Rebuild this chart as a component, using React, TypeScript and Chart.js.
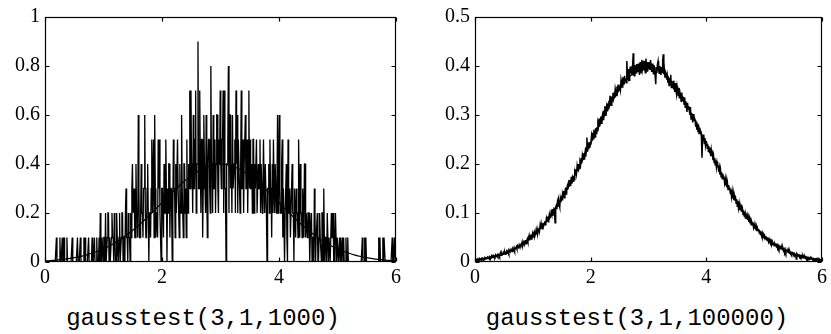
import React, { useEffect, useRef } from "react";
import { Chart, registerables } from "chart.js";

Chart.register(...registerables);

// ---------- data ----------
const binWidth = 0.01;
const leftDensityPerCount = 0.1; // 1 / (1000 samples * 0.01 bin)
const rightDensityPerUnit = 0.001;

// gausstest(3,1,1000): counts per 0.01 bin
const leftCounts0to2 = [
  0,0,0,0,0,0,0,0,0,0, 0,0,0,0,0,0,0,0,0,1, 0,0,0,0,0,1,0,0,0,1, 0,0,1,0,0,0,0,1,0,0, 0,0,0,0,0,0,1,0,0,0,
  0,0,0,0,0,1,0,0,0,0, 1,0,0,0,0,0,1,0,1,0, 0,0,0,0,1,0,0,0,0,0, 1,0,0,0,1,0,0,0,1,0, 0,0,1,0,2,0,0,1,1,0,
  1,1,0,2,0,0,1,2,2,0, 1,0,0,1,2,1,1,0,2,1, 0,0,2,1,1,0,1,2,0,0, 1,2,2,0,1,1,0,2,3,1, 1,0,2,1,1,0,2,1,3,4,
  2,2,3,1,1,4,2,2,1,6, 3,1,1,2,4,2,2,1,3,3, 6,2,1,1,3,4,2,0,2,2, 1,3,5,2,2,5,1,6,3,1, 2,2,1,5,3,5,2,1,0,3,
];
const leftCounts2to4 = [
  3,3,1,4,2,2,5,3,0,3, 2,4,4,1,3,3,2,0,2,5, 3,3,1,4,2,2,5,3,3,1, 4,2,2,6,3,3,1,4,4,2, 3,1,5,2,2,4,3,7,3,7,
  4,4,2,6,3,3,5,7,2,4, 4,9,3,3,7,4,2,5,5,1, 3,6,4,4,2,6,3,1,4,5, 5,3,2,8,4,4,2,6,3,3, 5,2,4,6,6,3,2,5,4,7,
  4,3,5,5,7,2,7,3,3,0, 4,4,5,8,2,6,6,3,4,2, 6,3,3,4,5,2,7,4,6,2, 5,5,3,2,4,7,3,3,5,2, 4,4,6,3,3,5,2,4,7,3,
  5,3,3,4,2,5,5,2,4,3, 3,5,2,2,4,3,3,5,2,4, 4,2,3,5,3,2,4,4,2,0, 3,3,4,2,5,3,3,1,4,2, 5,3,2,4,4,2,3,6,2,4,
];
const leftCounts4to6 = [
  6,3,2,2,4,5,1,3,3,0, 2,2,4,1,0,5,2,2,3,1, 1,3,4,2,2,0,3,2,1,3, 2,2,1,5,3,1,4,2,2,1, 3,2,1,4,4,1,2,2,1,2,
  2,2,0,1,1,2,0,1,1,0, 3,2,0,1,1,2,0,0,1,2, 1,1,0,2,2,0,3,1,0,1, 1,0,2,2,0,1,1,0,0,2, 1,1,2,0,0,1,2,1,0,1,
  1,0,0,1,0,1,0,0,1,0, 1,0,0,0,1,0,0,1,0,0, 0,0,0,0,0,0,0,0,0,0, 0,0,0,0,0,0,0,0,0,0, 0,0,1,0,0,0,1,0,1,0,
  0,0,0,0,0,0,0,0,0,0, 0,0,0,0,0,0,0,0,0,0, 1,0,1,0,0,0,0,1,0,1, 1,0,0,0,0,0,0,0,0,0, 0,0,0,1,0,0,0,1,0,1,
];

// gausstest(3,1,100000): density per 0.01 bin, in thousandths
const rightMilli0to2 = [
  3,5,4,6,2,5,4,7,5,6, 7,5,8,6,4,7,9,6,8,7, 8,10,7,9,11,8,10,9,12,9, 11,9,13,12,10,14,11,13,15,12, 14,16,12,15,17,14,18,15,16,19,
  17,20,16,19,22,18,21,24,19,22, 23,21,26,24,22,27,25,29,24,27, 28,31,27,33,30,29,35,32,31,36, 36,41,33,37,44,36,40,45,37,43, 47,42,49,54,44,50,56,47,52,58,
  51,59,62,53,57,64,56,66,58,63, 70,63,74,67,78,71,68,80,73,77, 83,76,79,89,84,93,82,88,97,90, 92,101,97,108,94,103,111,99,80,112, 115,108,121,113,126,117,112,129,122,131,
  127,138,133,145,131,140,152,139,147,154, 148,159,153,167,156,162,174,160,171,165, 176,168,183,178,190,181,195,186,200,189, 192,203,198,212,201,216,208,222,210,219, 226,215,232,254,225,236,230,245,233,241,
];
const rightMilli2to4 = [
  246,258,250,264,252,270,259,255,273,262, 275,268,284,279,293,276,289,297,283,294, 300,291,309,302,318,305,298,316,309,324, 318,329,322,339,326,320,337,331,345,334, 341,335,353,346,340,358,350,362,348,357,
  360,352,372,365,357,377,368,362,380,371, 375,366,410,383,378,394,371,388,399,385, 392,382,398,426,389,380,402,395,386,404, 398,388,405,392,382,408,397,386,412,394, 402,391,410,396,386,415,400,390,408,398,
  396,408,392,412,400,388,405,396,384,402, 392,380,363,398,386,404,410,393,385,400, 394,382,398,388,410,424,383,392,376,388, 385,372,380,366,378,360,375,368,382,356, 366,355,370,352,360,347,365,350,342,358,
  350,340,355,334,345,338,328,346,330,336, 334,322,336,316,328,320,306,325,312,318, 310,300,316,292,304,296,285,302,288,294, 290,276,286,270,282,265,280,262,274,268, 266,255,213,256,248,260,242,253,238,246,
];
const rightMilli4to6 = [
  245,232,240,226,236,222,233,216,229,220, 222,208,216,203,212,198,207,194,204,198, 196,184,192,178,188,174,183,170,180,172, 174,162,170,156,166,152,161,148,157,150, 152,140,148,134,144,130,140,126,136,129,
  131,120,128,114,124,111,119,106,116,110, 113,102,108,97,105,94,100,90,97,92, 96,86,92,82,89,79,85,76,82,78, 80,71,77,68,74,65,72,63,69,64, 67,59,64,56,62,54,59,52,57,53,
  55,48,53,46,51,44,49,42,47,43, 45,40,43,37,41,35,39,33,37,34, 36,33,35,30,33,28,31,27,30,28, 29,25,28,23,26,21,25,20,23,21, 23,20,22,18,21,17,19,16,19,17,
  18,15,17,13,16,6,15,12,14,12, 14,11,13,10,12,9,12,8,11,9, 11,8,10,7,9,6,9,7,8,6, 8,6,7,5,7,4,6,5,6,4, 6,4,5,3,5,3,4,2,4,3,
];

// smooth reference curve, sampled every 0.1 from 0 to 6
const curveStep = 0.1;
const curveValues = [
  0.0044, 0.0060, 0.0079, 0.0104, 0.0136, 0.0175, 0.0224, 0.0283, 0.0355, 0.0440,
  0.0540, 0.0656, 0.0790, 0.0940, 0.1109, 0.1295, 0.1497, 0.1714, 0.1942, 0.2179,
  0.2420, 0.2661, 0.2897, 0.3123, 0.3332, 0.3521, 0.3683, 0.3814, 0.3910, 0.3970,
  0.3989,
  0.3970, 0.3910, 0.3814, 0.3683, 0.3521, 0.3332, 0.3123, 0.2897, 0.2661, 0.2420,
  0.2179, 0.1942, 0.1714, 0.1497, 0.1295, 0.1109, 0.0940, 0.0790, 0.0656, 0.0540,
  0.0440, 0.0355, 0.0283, 0.0224, 0.0175, 0.0136, 0.0104, 0.0079, 0.0060, 0.0044,
];

const xTickValues = [0, 2, 4, 6];
const leftYTickValues = [0, 0.2, 0.4, 0.6, 0.8, 1];
const rightYTickValues = [0, 0.1, 0.2, 0.3, 0.4, 0.5];
const leftTitle = "gausstest(3,1,1000)";
const rightTitle = "gausstest(3,1,100000)";

// ---------- helpers ----------
const SERIF = "'Liberation Serif', 'Times New Roman', Times, serif";
Chart.defaults.font.family = SERIF;

const toPoints = (vals: number[], scale: number) =>
  vals.map((v, i) => ({ x: (i + 0.5) * binWidth, y: v * scale }));
const curvePoints = curveValues.map((v, i) => ({ x: i * curveStep, y: v }));

const framePlugin = {
  id: "frameTicks",
  afterDraw(chart: any) {
    const { ctx, chartArea: a, scales } = chart;
    const L = Math.round(a.left) + 0.5;
    const R = Math.round(a.right) - 0.5;
    const T = Math.round(a.top) + 0.5;
    const B = Math.round(a.bottom) - 0.5;
    const tl = 4;
    ctx.save();
    ctx.strokeStyle = "#000";
    ctx.lineWidth = 1.2;
    ctx.strokeRect(L, T, R - L, B - T);
    ctx.beginPath();
    scales.x.ticks.forEach((t: any) => {
      const px = Math.round(scales.x.getPixelForValue(t.value)) + 0.5;
      ctx.moveTo(px, B);
      ctx.lineTo(px, B - tl);
      ctx.moveTo(px, T);
      ctx.lineTo(px, T + tl);
    });
    scales.y.ticks.forEach((t: any) => {
      const py = Math.round(scales.y.getPixelForValue(t.value)) + 0.5;
      ctx.moveTo(L, py);
      ctx.lineTo(L + tl, py);
      ctx.moveTo(R, py);
      ctx.lineTo(R - tl, py);
    });
    ctx.stroke();
    ctx.restore();
  },
};

type PanelProps = {
  left: number;
  width: number;
  yAxisWidth: number;
  padRight: number;
  data: { x: number; y: number }[];
  dataWidth: number;
  yMax: number;
  yTicks: number[];
};

function Panel({ left, width, yAxisWidth, padRight, data, dataWidth, yMax, yTicks }: PanelProps) {
  const ref = useRef<HTMLCanvasElement | null>(null);
  useEffect(() => {
    if (!ref.current) return;
    const tickFont = { family: SERIF, size: 20 };
    const chart = new Chart(ref.current, {
      type: "line",
      data: {
        datasets: [
          {
            data: curvePoints,
            borderColor: "#000",
            borderWidth: 1.2,
            pointRadius: 0,
            tension: 0.4,
            fill: false,
          },
          {
            data,
            borderColor: "#000",
            borderWidth: dataWidth,
            pointRadius: 0,
            tension: 0,
            fill: false,
          },
        ],
      },
      options: {
        animation: false,
        responsive: false,
        events: [],
        layout: { padding: { top: 16, right: padRight, bottom: 0, left: 0 } },
        plugins: { legend: { display: false }, tooltip: { enabled: false } },
        scales: {
          x: {
            type: "linear",
            min: 0,
            max: 6,
            grid: { display: false, drawTicks: false },
            border: { display: false },
            afterBuildTicks: (s: any) => {
              s.ticks = xTickValues.map((v) => ({ value: v }));
            },
            afterFit: (s: any) => {
              s.height = 38;
            },
            ticks: {
              color: "#000",
              font: tickFont,
              padding: 4,
              maxRotation: 0,
              callback: (v: any) => String(v),
            },
          },
          y: {
            type: "linear",
            min: 0,
            max: yMax,
            grid: { display: false, drawTicks: false },
            border: { display: false },
            afterBuildTicks: (s: any) => {
              s.ticks = yTicks.map((v) => ({ value: v }));
            },
            afterFit: (s: any) => {
              s.width = yAxisWidth;
            },
            ticks: {
              color: "#000",
              font: tickFont,
              padding: 5,
              callback: (v: any) => String(v),
            },
          },
        },
      },
      plugins: [framePlugin],
    } as any);
    const fonts = (document as any).fonts;
    if (fonts && fonts.load) {
      fonts.load("20px 'Liberation Serif'").then(() => {
        try {
          chart.update();
        } catch (e) {}
      });
    }
    return () => chart.destroy();
  }, []);
  return (
    <canvas
      ref={ref}
      width={width}
      height={300}
      style={{ position: "absolute", left, top: 0, width, height: 300 }}
    />
  );
}

const titleStyle = (center: number): React.CSSProperties => ({
  position: "absolute",
  left: center - 200,
  width: 400,
  top: 307,
  textAlign: "center",
  fontFamily: "'Liberation Mono', 'DejaVu Sans Mono', monospace",
  fontSize: 24,
  lineHeight: "24px",
  color: "#000",
  whiteSpace: "nowrap",
});

export default function App() {
  const leftData = toPoints([...leftCounts0to2, ...leftCounts2to4, ...leftCounts4to6], leftDensityPerCount);
  const rightData = toPoints([...rightMilli0to2, ...rightMilli2to4, ...rightMilli4to6], rightDensityPerUnit);
  return (
    <div style={{ position: "absolute", left: 0, top: 0, width: 831, height: 334, background: "#fff", overflow: "hidden" }}>
      <Panel left={0} width={410} yAxisWidth={45} padRight={14} data={leftData} dataWidth={1.3} yMax={1} yTicks={leftYTickValues} />
      <Panel left={420} width={411} yAxisWidth={55} padRight={5} data={rightData} dataWidth={1.5} yMax={0.5} yTicks={rightYTickValues} />
      <div style={titleStyle(203)}>{leftTitle}</div>
      <div style={titleStyle(637)}>{rightTitle}</div>
    </div>
  );
}
